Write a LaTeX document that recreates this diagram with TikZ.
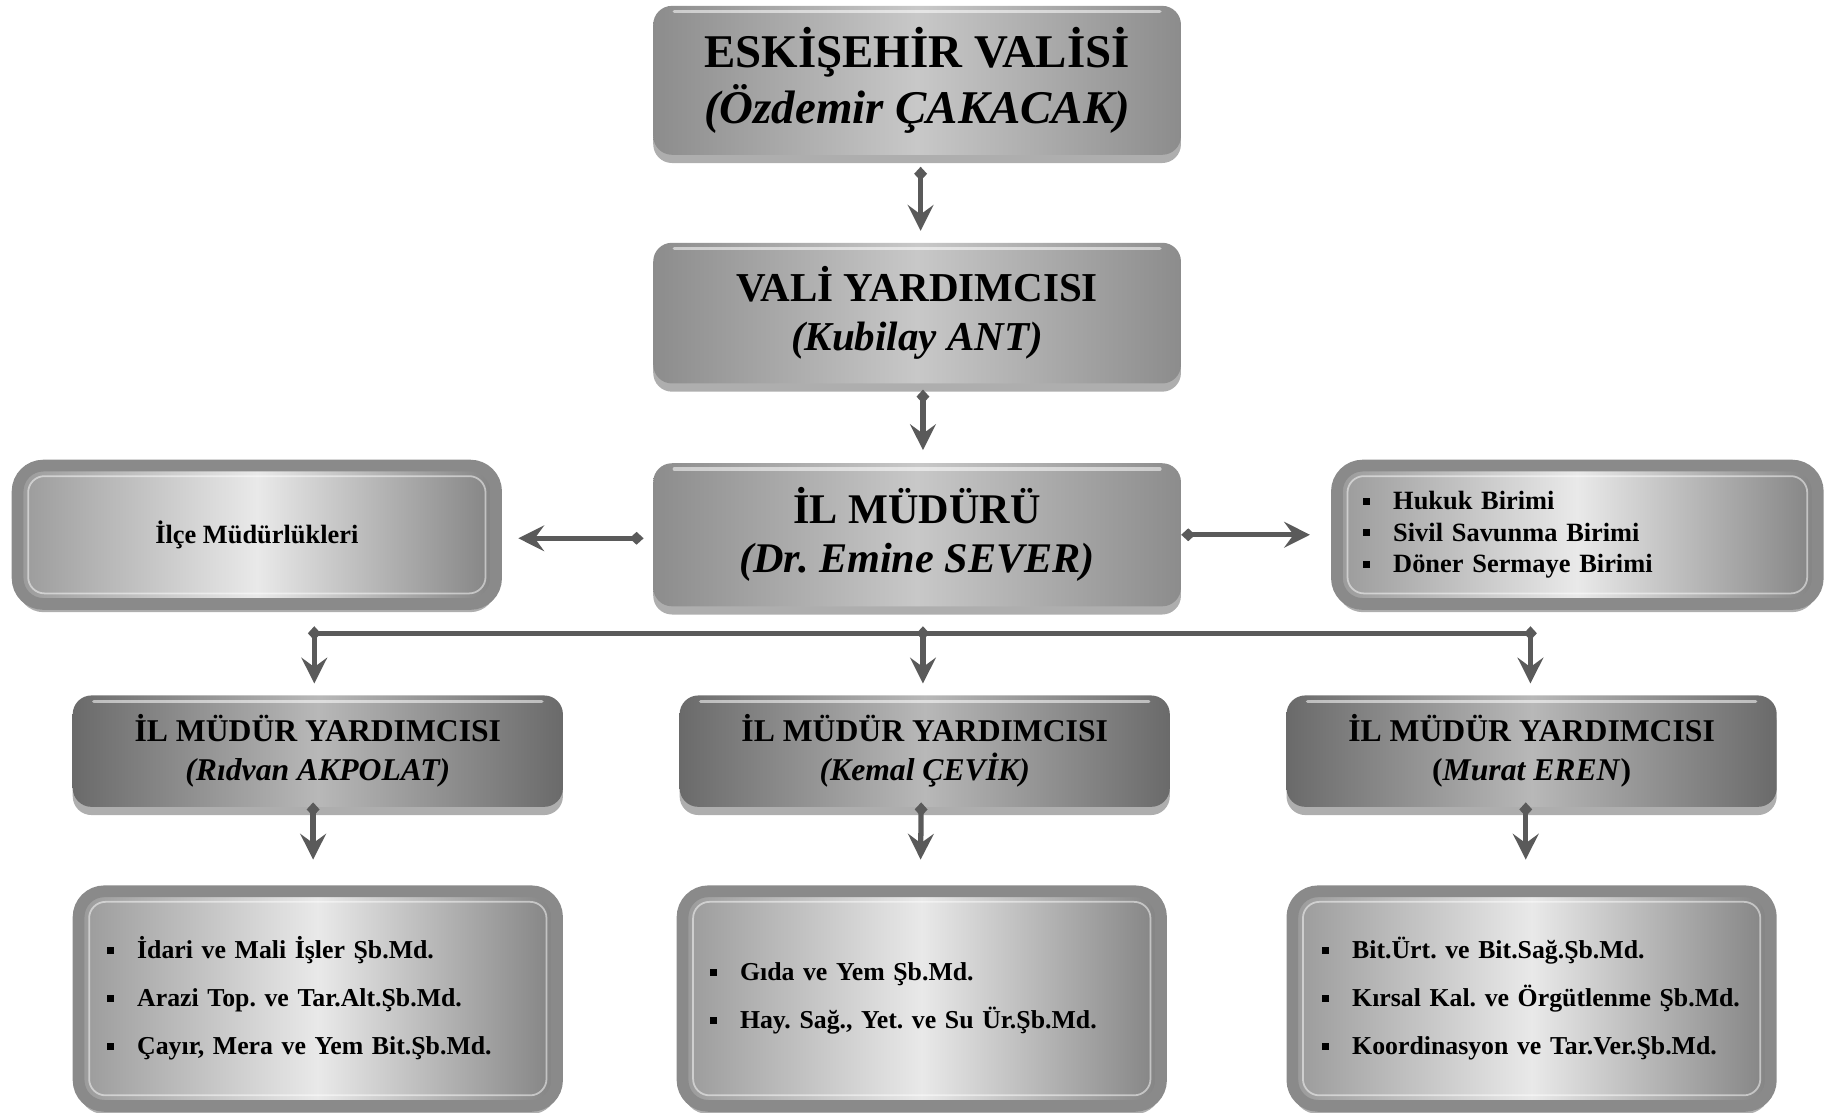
\documentclass[tikz,border=0pt]{standalone}
\usepackage{fontspec}
\setmainfont{Liberation Serif}
\usetikzlibrary{arrows.meta,shadows,calc}
\definecolor{arrgray}{HTML}{5A5A5A}
\definecolor{edgeA}{HTML}{8C8C8C}
\definecolor{midA}{HTML}{C8C8C8}
\definecolor{edgeB}{HTML}{6A6A6A}
\definecolor{midB}{HTML}{B8B8B8}
\definecolor{edgeC}{HTML}{9A9A9A}
\definecolor{midC}{HTML}{E9E9E9}
\definecolor{frameC}{HTML}{8A8A8A}
\newcommand{\myblt}{\makebox[26pt][l]{\raisebox{4pt}{\rule{6pt}{6pt}}}}
\newcommand{\myitem}[1]{\mbox{\myblt #1}}
\tikzset{
  basebox/.style={rounded corners=16pt, inner sep=0pt, align=center, text=black,
     drop shadow={shadow xshift=0pt, shadow yshift=-7pt, opacity=0.45, fill=black!70}},
  hilite/.style={path picture={
     \draw[white, opacity=0.55, line width=3pt, line cap=round]
       ([xshift=18pt,yshift=-5pt]path picture bounding box.north west) --
       ([xshift=-18pt,yshift=-5pt]path picture bounding box.north east);}},
  bevbox/.style={basebox, hilite, left color=edgeA, right color=edgeA, middle color=midA,
     minimum width=450pt},
  darkbox/.style={basebox, hilite, left color=edgeB, right color=edgeB, middle color=midB,
     minimum width=418pt, minimum height=95pt,
     font=\fontsize{27}{33}\selectfont\bfseries},
  framebox/.style={basebox, draw=frameC, line width=10pt, rounded corners=22pt,
     left color=edgeC, right color=edgeC!85!black, middle color=midC,
     minimum width=408pt,
     path picture={
       \draw[white, opacity=0.5, line width=1.5pt, rounded corners=14pt]
         ([shift={(9pt,-9pt)}]path picture bounding box.north west) rectangle
         ([shift={(-9pt,9pt)}]path picture bounding box.south east);}},
  listbox/.style={framebox, align=left, text width=#1},
  conn/.style={draw=arrgray, line width=4.5pt,
     {Diamond[length=12pt,width=11pt]}-{Stealth[length=22pt,width=22pt,inset=8pt]}},
  busline/.style={draw=arrgray, line width=4.5pt},
}
\begin{document}
\frenchspacing
\begin{tikzpicture}[x=1pt,y=-1pt]
\useasboundingbox (0,0) rectangle (1563,949);

% top column
\node[bevbox, minimum height=127pt, font=\fontsize{40}{48}\selectfont\bfseries]
  (valisi) at (782,68.5) {ESKİŞEHİR VALİSİ\\\itshape (Özdemir ÇAKACAK)};
\node[bevbox, minimum height=120pt, font=\fontsize{35}{42}\selectfont\bfseries]
  (yard) at (782,267) {VALİ YARDIMCISI\\\itshape (Kubilay ANT)};
\node[bevbox, minimum height=122pt, font=\fontsize{36}{42}\selectfont\bfseries]
  (mudur) at (782,456) {İL MÜDÜRÜ\\\itshape (Dr. Emine SEVER)};

% side boxes
\node[framebox, minimum height=118pt, font=\fontsize{22.5}{27}\selectfont\bfseries]
  (ilce) at (219,456) {İlçe Müdürlükleri};
\node[listbox=366pt, minimum width=410pt, minimum height=118pt,
      font=\fontsize{22.5}{27}\selectfont\bfseries]
  (birim) at (1345,456) {\myitem{Hukuk Birimi}\\\myitem{Sivil Savunma Birimi}\\\myitem{Döner Sermaye Birimi}};

% deputy row
\node[darkbox] (my1) at (271,640.5) {İL MÜDÜR YARDIMCISI\\\itshape (Rıdvan AKPOLAT)};
\node[darkbox] (my2) at (788.5,640.5) {İL MÜDÜR YARDIMCISI\\\itshape (Kemal ÇEVİK)};
\node[darkbox] (my3) at (1306,640.5) {İL MÜDÜR YARDIMCISI\\(\textit{Murat EREN})};

% bottom row
\node[listbox=360pt, minimum height=183pt, font=\fontsize{22}{41}\selectfont\bfseries]
  (sb1) at (271,851.5) {\myitem{İdari ve Mali İşler Şb.Md.}\\\myitem{Arazi Top. ve Tar.Alt.Şb.Md.}\\\myitem{Çayır, Mera ve Yem Bit.Şb.Md.}};
\node[listbox=362pt, minimum height=183pt, font=\fontsize{22}{41}\selectfont\bfseries]
  (sb2) at (786,851.5) {\myitem{Gıda ve Yem Şb.Md.}\\\myitem{Hay. Sağ., Yet. ve Su Ür.Şb.Md.}};
\node[listbox=358pt, minimum height=183pt, font=\fontsize{22}{41}\selectfont\bfseries]
  (sb3) at (1306,851.5) {\myitem{Bit.Ürt. ve Bit.Sağ.Şb.Md.}\\\myitem{Kırsal Kal. ve Örgütlenme Şb.Md.}\\\myitem{Koordinasyon ve Tar.Ver.Şb.Md.}};

% connectors
\draw[conn] ([xshift=3pt,yshift=-10pt]valisi.south) -- ([xshift=3pt,yshift=10pt]yard.north);
\draw[conn] ([xshift=5pt,yshift=-5pt]yard.south) -- ([xshift=5pt,yshift=11pt]mudur.north);
\draw[conn] ([xshift=-8pt,yshift=-3pt]mudur.west) -- ([xshift=14pt,yshift=-3pt]ilce.east);
\draw[conn] (mudur.east) -- ([xshift=-18pt]birim.west);

\coordinate (busL) at (268,540);
\coordinate (busM) at (787,540);
\coordinate (busR) at (1305,540);
\draw[busline] (busL) -- (busR);
\draw[conn] ($(busL)+(0,-6)$) -- ($(busL |- my1.north)+(0,-10)$);
\draw[conn] ($(busM)+(0,-6)$) -- ($(busM |- my2.north)+(0,-10)$);
\draw[conn] ($(busR)+(0,-6)$) -- ($(busR |- my3.north)+(0,-10)$);

\draw[conn] ([xshift=-4pt,yshift=4pt]my1.south) -- ([xshift=-4pt,yshift=22pt]sb1.north);
\draw[conn] ([xshift=-3pt,yshift=4pt]my2.south) -- ([xshift=-1pt,yshift=22pt]sb2.north);
\draw[conn] ([xshift=-5pt,yshift=4pt]my3.south) -- ([xshift=-5pt,yshift=22pt]sb3.north);
\end{tikzpicture}
\end{document}
